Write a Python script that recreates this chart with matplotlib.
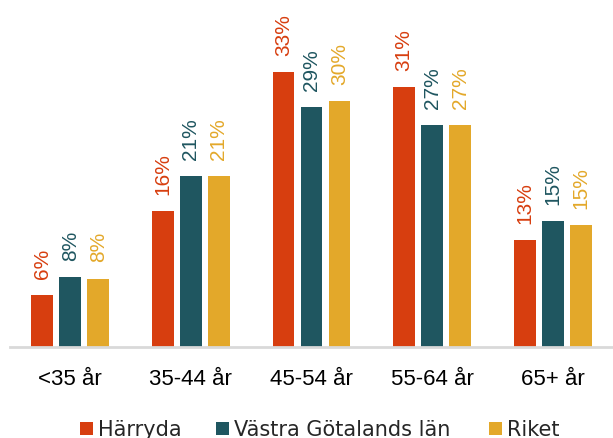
import matplotlib
matplotlib.use("Agg")
import matplotlib.pyplot as plt
import numpy as np
from matplotlib.patches import Rectangle
from matplotlib import font_manager as fm

categories = ["<35 år", "35-44 år", "45-54 år", "55-64 år", "65+ år"]
series_names = ["Härryda", "Västra Götalands län", "Riket"]
harryda = [6.2, 16.3, 33.0, 31.2, 12.8]
vastra = [8.4, 20.5, 28.8, 26.6, 15.1]
riket = [8.2, 20.5, 29.5, 26.6, 14.6]
labels_h = ["6%", "16%", "33%", "31%", "13%"]
labels_v = ["8%", "21%", "29%", "27%", "15%"]
labels_r = ["8%", "21%", "30%", "27%", "15%"]
colors = ["#D73E0F", "#1F5660", "#E3A82A"]

arial_path = fm.findfont("Liberation Sans")
arial = lambda s: fm.FontProperties(fname=arial_path, size=s)

W, H = 613, 439
fig = plt.figure(figsize=(W / 100, H / 100), dpi=100)
ax = fig.add_axes([10 / W, 1 - 348 / H, 603 / W, 348 / H])

x = np.arange(len(categories))
bw = 0.182
step = 0.232
data = [harryda, vastra, riket]
labs = [labels_h, labels_v, labels_r]
for i, (vals, lab, c) in enumerate(zip(data, labs, colors)):
    pos = x + (i - 1) * step
    ax.bar(pos, vals, width=bw, color=c, label=series_names[i], zorder=2)
    for p, v, t in zip(pos, vals, lab):
        ax.annotate(t, (p, v), xytext=(0, 12.5), textcoords="offset points",
                    rotation=90, ha="center", va="bottom", color=c,
                    fontproperties=arial(15))

ax.set_xlim(-0.5, 4.5)
ax.set_ylim(0, 348 / 8.33)
for s in ["top", "right", "left"]:
    ax.spines[s].set_visible(False)
ax.spines["bottom"].set_color("#D9D9D9")
ax.spines["bottom"].set_linewidth(2)
ax.set_yticks([])
ax.set_xticks(x)
ax.set_xticklabels(categories)
for t in ax.get_xticklabels():
    t.set_fontproperties(arial(16))
ax.tick_params(axis="x", length=0, pad=15)

# legend, drawn as figure-level squares and texts
sq_x = [80, 216, 489]
for sx, name, c in zip(sq_x, series_names, colors):
    fig.patches.append(Rectangle((sx / W, 1 - 436 / H), 13 / W, 13 / H,
                                 transform=fig.transFigure, facecolor=c,
                                 edgecolor="none"))
    fig.text((sx + 18) / W, 1 - 436 / H, name, ha="left", va="baseline",
             family="DejaVu Sans", fontsize=15, color="#262626")

fig.savefig("out.png", dpi=100)
